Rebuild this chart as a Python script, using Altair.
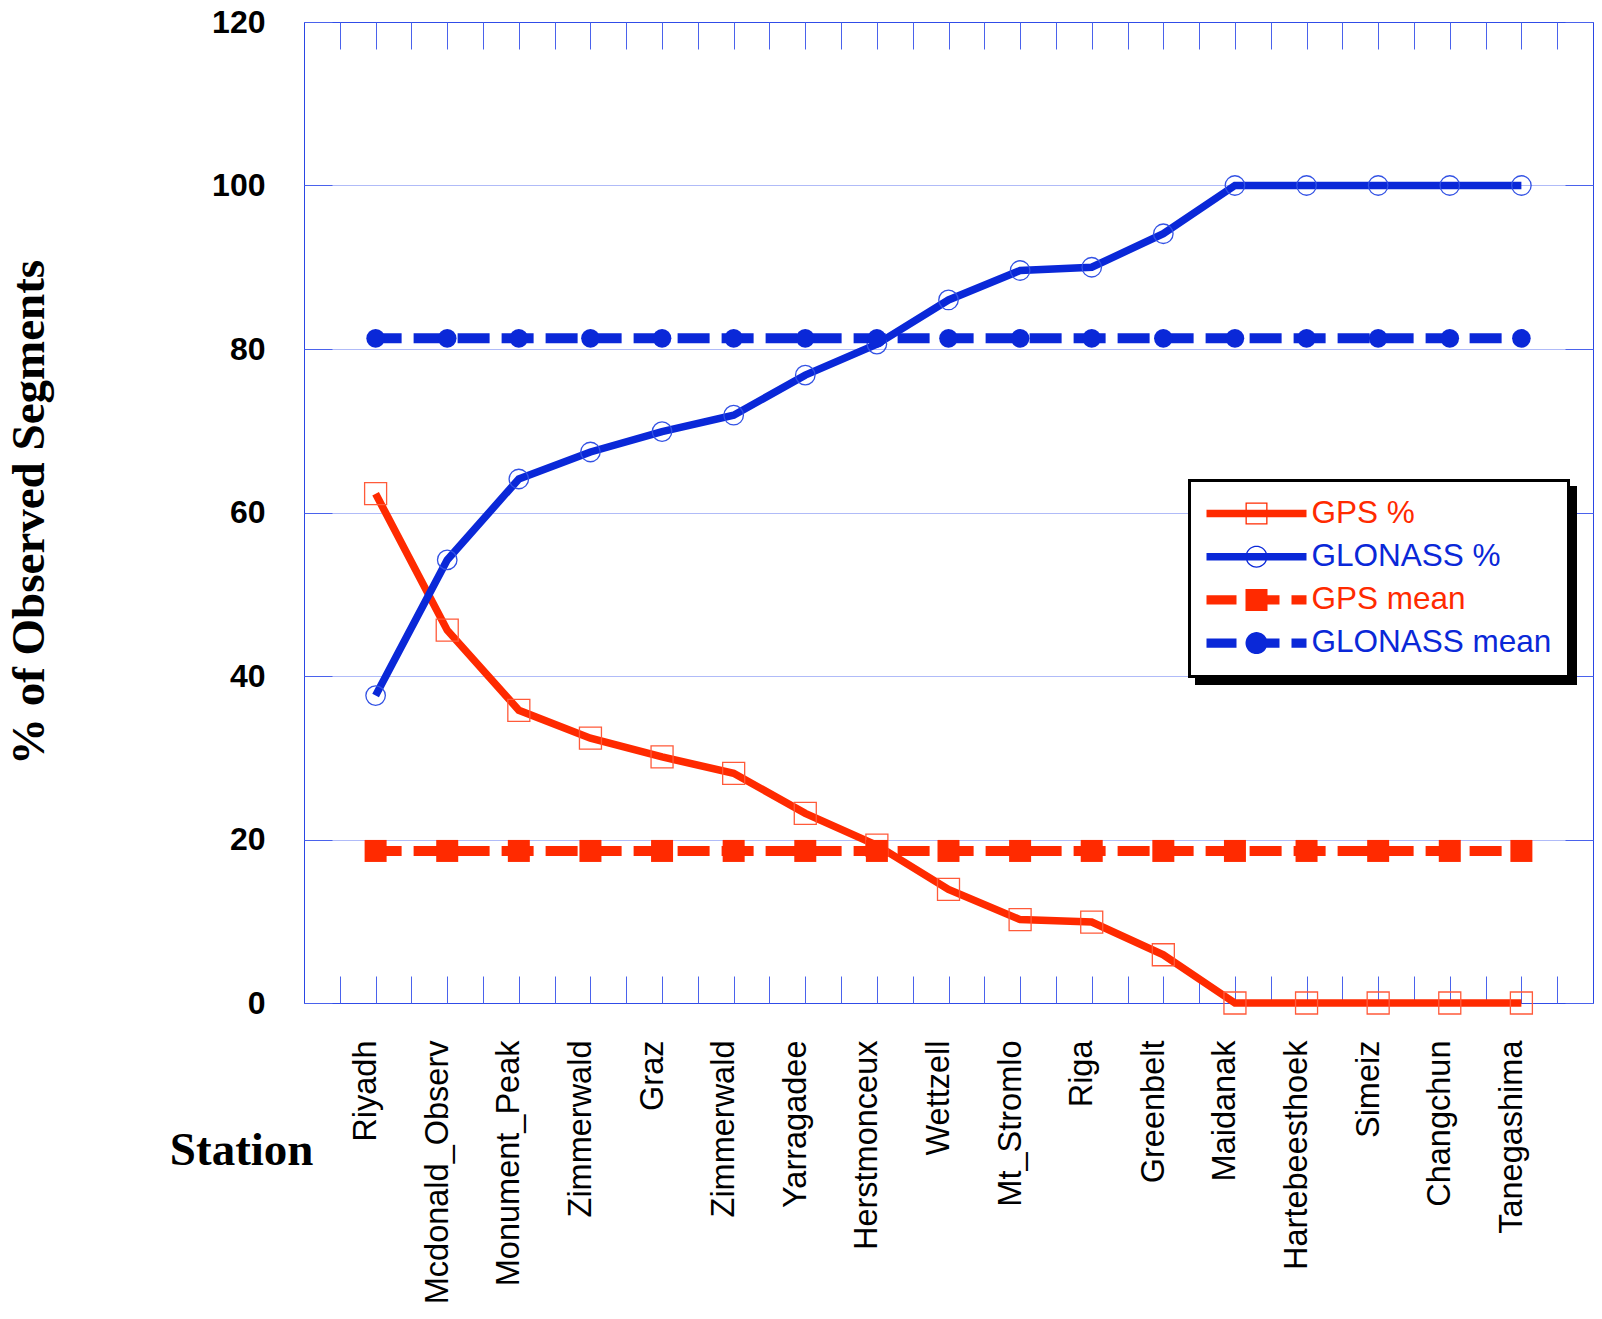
import math
import altair as alt
import pandas as pd

# ---------------- data ----------------
stations = ["Riyadh", "Mcdonald_Observ", "Monument_Peak", "Zimmerwald", "Graz",
            "Zimmerwald", "Yarragadee", "Herstmonceux", "Wettzell", "Mt_Stromlo",
            "Riga", "Greenbelt", "Maidanak", "Hartebeesthoek", "Simeiz",
            "Changchun", "Tanegashima"]
gps_pct = [62.3, 45.6, 35.8, 32.4, 30.1, 28.1, 23.2, 19.3, 13.9, 10.2, 9.9, 5.9,
           0, 0, 0, 0, 0]
glonass_pct = [37.6, 54.2, 64.1, 67.4, 69.9, 71.9, 76.8, 80.6, 86.0, 89.6, 90.0, 94.1,
               100, 100, 100, 100, 100]
gps_mean = 18.6
glonass_mean = 81.3

series_names = ["GPS %", "GLONASS %", "GPS mean", "GLONASS mean"]
series_colors = ["#ff2a00", "#0a28d8", "#ff2a00", "#0a28d8"]
y_tick_values = [0, 20, 40, 60, 80, 100, 120]
x_tick_values = [k / 2 for k in range(1, 36)]

series_values = {
    "GPS %": gps_pct,
    "GLONASS %": glonass_pct,
    "GPS mean": [gps_mean] * len(stations),
    "GLONASS mean": [glonass_mean] * len(stations),
}
rows = []
for s in series_names:
    for i, (st, v) in enumerate(zip(stations, series_values[s])):
        rows.append({"pos": i + 1, "Station": st, "Series": s, "Shadow": s, "value": v})
df = pd.DataFrame(rows)

RED = "#ff2a00"
BLUE = "#0a28d8"
TICK = "#4a62ec"
GRID = "#3a56ee"
BORDER = "#2a46e4"

# ---------------- legend glyphs ----------------
# glyphs are designed in pixels (x: 0..100 from symbol left, y: centred),
# then converted to Vega symbol units (symbol size S -> unit = S/2 px, centre at S/2).
SYM = 32.0
U = SYM / 2


def _pt(px, py):
    return f"{(px - U) / U:.4f},{py / U:.4f}"


def rect_path(x0, y0, x1, y1, ccw=False):
    pts = [(x0, y0), (x1, y0), (x1, y1), (x0, y1)]
    if ccw:
        pts = [(x0, y0), (x0, y1), (x1, y1), (x1, y0)]
    return "M" + "L".join(_pt(x, y) for x, y in pts) + "Z"


def circle_path(cx, r, ccw=False, n=40):
    ang = [2 * math.pi * k / n for k in range(n)]
    if ccw:
        ang = ang[::-1]
    return "M" + "L".join(_pt(cx + r * math.cos(a), r * math.sin(a)) for a in ang) + "Z"


LH = 3.75   # solid line half thickness (px)
DH = 4.7    # dashed line half thickness (px)
MK = 11.0   # marker half size (px)
RG = 1.3    # hollow marker ring thickness (px)
C = 50.0    # marker centre

glyphs = {
    "GPS %": rect_path(0, -LH, 100, LH) + rect_path(C - MK, -MK, C + MK, MK)
             + rect_path(C - MK + RG, -MK + RG, C + MK - RG, MK - RG, ccw=True),
    "GLONASS %": rect_path(0, -LH, 100, LH) + circle_path(C, MK)
                 + circle_path(C, MK - RG, ccw=True),
    "GPS mean": rect_path(0, -DH, 30, DH) + rect_path(C - MK, -MK, C + MK, MK)
                + rect_path(C + MK, -DH, 73, DH) + rect_path(85, -DH, 100, DH),
    "GLONASS mean": rect_path(0, -DH, 30, DH) + circle_path(C, MK)
                    + rect_path(C, -DH, 73, DH) + rect_path(85, -DH, 100, DH),
}

shape_expr = ""
for s in series_names[:-1]:
    shape_expr += f"datum.value === '{s}' ? '{glyphs[s]}' : "
shape_expr += f"'{glyphs[series_names[-1]]}'"

color_expr = ""
for s, c in zip(series_names[:-1], series_colors[:-1]):
    color_expr += f"datum.value === '{s}' ? '{c}' : "
color_expr += f"'{series_colors[-1]}'"

PLOT_LEFT = 304
LEG_X, LEG_Y = 1189.5 - PLOT_LEFT, 480.5 - 22
LABEL_FS = 31.5
LABEL_OFF = 105 - SYM
legend_common = dict(
    title=None, orient="none", direction="vertical",
    padding=17, rowPadding=11.2,
    symbolSize=SYM * SYM, symbolStrokeWidth=0,
    labelFont="Liberation Sans", labelFontSize=LABEL_FS, labelLimit=600,
)
legend_main = alt.Legend(
    legendX=LEG_X, legendY=LEG_Y, fillColor="white", strokeColor="black",
    symbolType=alt.ExprRef(expr=shape_expr), symbolFillColor=alt.ExprRef(expr=color_expr),
    symbolOpacity=1, labelColor=alt.ExprRef(expr=color_expr), labelOffset=LABEL_OFF,
    zindex=2, **legend_common,
)
# drop-shadow box: a second legend of the same size, drawn black behind the main one.
# its (invisible) symbols span the width of symbol + widest label; its labels are blank.
widest = 7.614 * LABEL_FS             # "GLONASS mean" width in Liberation Sans
shadow_glyph = rect_path(0, -11, 105 + widest, 11)
legend_shadow = alt.Legend(
    legendX=LEG_X + 7, legendY=LEG_Y + 7, fillColor="black", strokeColor="black",
    symbolOpacity=0, labelColor="black", labelExpr="'   '",
    labelOffset=LABEL_OFF, zindex=1,
    **legend_common,
)
shadow_range = [shadow_glyph] * len(series_names)

# ---------------- axes ----------------
names_js = "[" + ",".join("'" + s + "'" for s in stations) + "]"
label_expr = f"datum.value % 1 === 0 ? {names_js}[datum.value - 1] : ''"

axis_bottom = alt.Axis(
    orient="bottom", values=x_tick_values, offset=-27, tickSize=27, tickColor=TICK,
    tickWidth=1, domain=False, grid=False, labelExpr=label_expr, labelAngle=270,
    labelAlign="right", labelBaseline="alphabetic", labelPadding=37,
    labelFont="Liberation Sans", labelFontSize=32.5, labelColor="black",
    labelOverlap=False, labelFlush=False, labelBound=False, labelLimit=600,
    title="Station", titleFont="Liberation Serif", titleFontSize=47,
    titleFontWeight="bold", titleColor="black", titleX=9, titleY=188,
    titleAlign="right", titleBaseline="alphabetic", titleAngle=0,
)
axis_left = alt.Axis(
    orient="left", values=y_tick_values, offset=-28, tickSize=28, tickColor=TICK,
    tickWidth=1, domain=False, grid=True, gridColor=GRID, gridDash=[1, 1],
    gridWidth=1, gridOpacity=0.8, labelFont="Liberation Sans", labelFontWeight="bold",
    labelFontSize=32, labelColor="black", labelPadding=39, labelOverlap=False,
    labelFlush=False, title="% of Observed Segments", titleFont="Liberation Serif",
    titleFontSize=47, titleFontWeight="bold", titleColor="black", titleAngle=270,
    titleAlign="center", titleBaseline="alphabetic", titleX=-289, titleY=490,
)
axis_top = alt.Axis(
    orient="top", values=x_tick_values, offset=-27, tickSize=27, tickColor=TICK,
    tickWidth=1, domain=False, grid=False, labels=False, title=None,
)
axis_right = alt.Axis(
    orient="right", values=y_tick_values, offset=-28, tickSize=28, tickColor=TICK,
    tickWidth=1, domain=False, grid=False, labels=False, title=None,
)

x_scale = alt.Scale(domain=[0, 18], nice=False, zero=False)
y_scale = alt.Scale(domain=[0, 120], nice=False)
color_scale = alt.Scale(domain=series_names, range=series_colors)


def X(axis):
    return alt.X("pos:Q", scale=x_scale, axis=axis)


def Y(axis):
    return alt.Y("value:Q", scale=y_scale, axis=axis)


color_enc = alt.Color("Series:N", scale=color_scale, legend=legend_main)
base = alt.Chart(df)


def sel(name):
    return base.transform_filter(alt.datum.Series == name)


DASH = [32, 12]
DASH_OFF = 6

line_gps = sel("GPS %").mark_line(strokeWidth=7.5).encode(
    x=X(axis_bottom), y=Y(axis_left), color=color_enc)
pts_gps = sel("GPS %").mark_point(shape="square", size=484, filled=False,
                                  stroke="#ff5a3a", strokeWidth=1.3, opacity=1).encode(
    x=X(None), y=Y(None))
line_glo = sel("GLONASS %").mark_line(strokeWidth=7.5).encode(
    x=X(axis_top), y=Y(axis_right), color=color_enc)
pts_glo = sel("GLONASS %").mark_point(shape="circle", size=380, filled=False,
                                      stroke="#3352e4", strokeWidth=1.3, opacity=1).encode(
    x=X(None), y=Y(None))
line_gm = sel("GPS mean").mark_line(strokeWidth=10, strokeDash=DASH,
                                    strokeDashOffset=DASH_OFF).encode(
    x=X(None), y=Y(None), color=color_enc)
pts_gm = sel("GPS mean").mark_point(shape="square", size=484, filled=True,
                                    fill=RED, opacity=1, strokeWidth=0).encode(
    x=X(None), y=Y(None))
line_glm = sel("GLONASS mean").mark_line(strokeWidth=10, strokeDash=DASH,
                                         strokeDashOffset=DASH_OFF).encode(
    x=X(None), y=Y(None), color=color_enc)
pts_glm = sel("GLONASS mean").mark_point(shape="circle", size=346, filled=True,
                                         fill=BLUE, opacity=1, strokeWidth=0).encode(
    x=X(None), y=Y(None))
shadow = base.mark_point(filled=True, opacity=0).encode(
    x=X(None), y=Y(None),
    shape=alt.Shape("Shadow:N", scale=alt.Scale(range=shadow_range), legend=legend_shadow))

chart = alt.layer(
    line_gps, pts_gps, line_glo, pts_glo, line_gm, pts_gm, line_glm, pts_glm, shadow
).resolve_axis(
    x="independent", y="independent"
).properties(
    width=1289, height=981,
    autosize=alt.AutoSizeParams(type="none"),
    padding={"left": PLOT_LEFT - 8, "top": 14, "right": 1, "bottom": 300},
).configure(
    background="white"
).configure_view(
    stroke=BORDER, strokeWidth=1
).configure_legend(
    strokeWidth=3
)

chart.save("out.html", embed_options={"renderer": "svg", "actions": False})
